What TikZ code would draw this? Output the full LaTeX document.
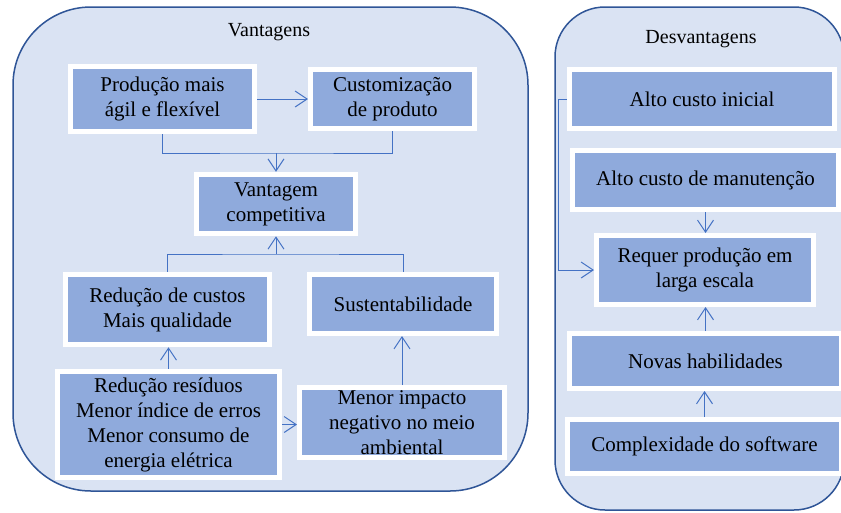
\documentclass[tikz,border=0pt]{standalone}
\usepackage{fontspec}
\setmainfont{Liberation Serif}
\usetikzlibrary{arrows.meta}
\definecolor{contfill}{HTML}{DAE3F3}
\definecolor{contline}{HTML}{2F5597}
\definecolor{boxfill}{HTML}{8FAADC}
\definecolor{connblue}{HTML}{4472C4}
\begin{document}
\begin{tikzpicture}[x=1pt,y=-1pt,
  container/.style={draw=contline, fill=contfill, line width=1.5pt},
  item/.style={draw=white, fill=boxfill, line width=5pt, inner sep=0pt, align=center, font=\fontsize{21}{25}\selectfont, text=black},
  conn/.style={draw=connblue, line width=1pt},
  arr/.style={conn, -{Straight Barb[length=12pt,width=16pt]}},
  title/.style={font=\fontsize{20}{24}\selectfont, text=black}]
\useasboundingbox (0,0) rectangle (841,512);
\clip (0,0) rectangle (841,512);
\draw[container, rounded corners=78pt] (13,7) rectangle (528,491);
\draw[container, rounded corners=50pt] (555,7) rectangle (844,510);
\node[title] (tv) at (269,32) {Vantagens};
\node[title] (td) at (701,39) {Desvantagens};
% Vantagens
\node[item, minimum width=184.5pt, minimum height=65pt] (prod) at (162.5,99) {Produção mais\\ágil e flexível};
\node[item, minimum width=164pt, minimum height=59pt] (cust) at (392.5,99) {Customização\\de produto};
\node[item, minimum width=159.5pt, minimum height=59.5pt] (vant) at (276,204) {Vantagem\\competitiva};
\node[item, minimum width=204.5pt, minimum height=70.5pt] (red) at (167.5,309.5) {Redução de custos\\Mais qualidade};
\node[item, minimum width=187pt, minimum height=59pt] (sust) at (403,304) {Sustentabilidade};
\node[item, minimum width=222.5pt, minimum height=106.5pt] (res) at (168.5,424.5) {Redução resíduos\\Menor índice de erros\\Menor consumo de\\energia elétrica};
\node[item, minimum width=205pt, minimum height=70pt] (imp) at (402,422.5) {Menor impacto\\negativo no meio\\ambiental};
% Desvantagens
\node[item, minimum width=265.5pt, minimum height=59pt] (aci) at (702,99) {Alto custo inicial};
\node[item, minimum width=266pt, minimum height=59pt] (acm) at (705.5,180) {Alto custo de manutenção};
\node[item, minimum width=217pt, minimum height=69pt] (req) at (705,270) {Requer produção em\\larga escala};
\node[item, minimum width=272pt, minimum height=55pt] (nov) at (705.5,361) {Novas habilidades};
\node[item, minimum width=274pt, minimum height=54pt] (comp) at (704.5,446.5) {Complexidade do software};
% connectors
\draw[arr] (prod) -- (cust);
\coordinate (j1) at (276,153);
\draw[conn] (prod.south) |- (j1) -| (cust.south);
\draw[arr] (j1) -- (vant.north);
\coordinate (j2) at (276,254);
\draw[conn] (red.north) |- (j2) -| (sust.north);
\draw[arr] (j2) -- (vant.south);
\draw[arr] (res.north) -- (res.north |- red.south);
\draw[arr] (res.east) -- (res.east -| imp.west);
\draw[arr] (imp.north) -- (imp.north |- sust.south);
\coordinate (k1) at (558,99);
\draw[arr] (aci.west) -- (k1) |- (req.west);
\draw[arr] (acm.south) -- (acm.south |- req.north);
\draw[arr] (nov.north) -- (nov.north |- req.south);
\draw[arr] (comp.north) -- (comp.north |- nov.south);
\end{tikzpicture}
\end{document}
